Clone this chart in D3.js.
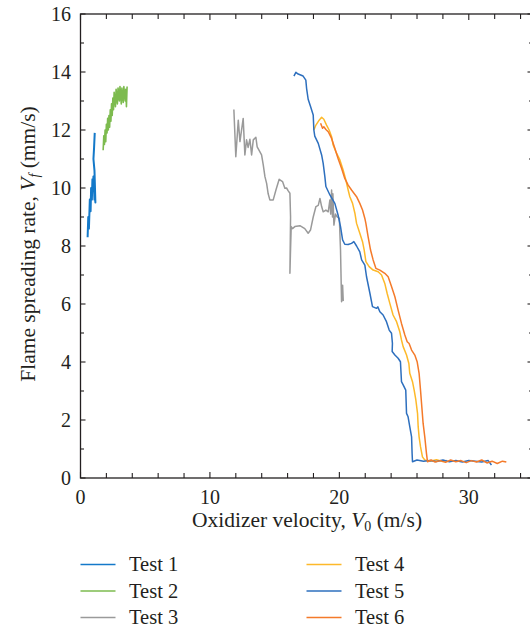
<!DOCTYPE html>
<html>
<head>
<meta charset="utf-8">
<script src="https://cdn.jsdelivr.net/npm/d3@7"></script>
<style>
  html, body { margin: 0; padding: 0; background: #fff; }
  svg { display: block; }
  text { font-family: "Liberation Serif", "Times New Roman", serif; fill: #231f20; }
</style>
</head>
<body>
<svg id="chart" width="530" height="631"></svg>
<script>
// ---------- data ----------
const seriesNames = ["Test 1", "Test 2", "Test 3", "Test 4", "Test 5", "Test 6"];
const seriesColors = ["#1479c9", "#7dbb4f", "#9a9a9a", "#fdb92a", "#2d6fbe", "#f47a2a"];

const test1 = [[0.55,8.3],[0.6,9.0],[0.65,8.6],[0.72,9.6],[0.78,9.2],[0.82,10.0],[0.88,9.6],[0.92,10.3],[0.95,9.9],[1.0,10.4],[1.08,9.6],[1.05,10.2],[1.15,9.5],[1.08,10.6],[1.0,11.0],[1.05,11.4],[1.1,11.9]];
const test2 = [[1.75,11.3],[1.8,11.8],[1.85,11.5],[1.9,12.0],[1.95,11.6],[2.0,12.2],[2.05,11.9],[2.1,12.4],[2.15,12.0],[2.2,12.5],[2.25,12.1],[2.3,12.7],[2.35,12.3],[2.4,12.9],[2.45,12.5],[2.5,13.1],[2.55,12.7],[2.6,13.3],[2.7,12.8],[2.75,13.4],[2.85,12.9],[2.9,13.45],[3.0,13.0],[3.05,13.5],[3.15,12.9],[3.2,13.45],[3.3,12.95],[3.35,13.5],[3.45,13.0],[3.5,13.4],[3.55,12.8],[3.6,13.5]];
const test3 = [[11.85,12.71],[12.0,11.08],[12.19,12.34],[12.32,11.6],[12.57,12.4],[12.7,11.14],[12.83,11.66],[12.95,11.4],[13.09,11.68],[13.22,11.14],[13.35,11.66],[13.55,11.75],[13.65,11.42],[13.8,11.3],[13.99,11.14],[14.12,10.8],[14.25,10.39],[14.38,10.16],[14.5,9.8],[14.63,9.59],[14.89,9.59],[15.1,9.93],[15.35,10.3],[15.61,10.22],[15.79,9.99],[15.92,10.0],[16.05,9.9],[16.18,9.82],[16.23,9.0],[16.18,7.06],[16.23,7.9],[16.28,8.67],[16.38,8.6],[16.56,8.67],[16.95,8.7],[17.33,8.6],[17.59,8.44],[17.77,8.55],[17.98,9.0],[18.19,9.36],[18.37,9.4],[18.5,9.64],[18.63,9.36],[18.75,9.18],[18.96,9.24],[19.14,9.18],[19.27,9.59],[19.33,9.1],[19.4,9.93],[19.47,9.0],[19.5,9.8],[19.58,8.72],[19.7,9.1],[19.84,9.0],[20.0,8.95],[20.09,7.86],[20.17,6.08],[20.25,6.65],[20.3,6.1]];
const test4 = [[18.03,12.0],[18.19,12.17],[18.44,12.34],[18.63,12.44],[18.8,12.37],[19.01,12.17],[19.21,12.0],[19.4,11.77],[19.52,11.48],[19.78,11.2],[20.04,10.97],[20.29,10.62],[20.5,10.28],[20.68,9.93],[20.81,9.7],[21.02,9.47],[21.2,9.13],[21.33,8.78],[21.58,8.44],[21.79,8.15],[21.92,7.86],[22.05,7.46],[22.3,7.29],[22.61,7.17],[23.0,7.11],[23.26,7.0],[23.51,6.71],[23.69,6.37],[23.9,6.02],[24.15,5.62],[24.42,5.39],[24.67,5.04],[24.8,4.76],[24.93,4.53],[25.19,4.24],[25.37,3.95],[25.44,3.61],[25.65,3.32],[25.78,3.03],[25.91,2.69],[26.04,2.23],[26.09,1.77],[26.16,1.42],[26.27,1.08],[26.42,0.73],[26.6,0.62],[27.0,0.58],[27.5,0.63],[28.0,0.57],[28.3,0.6]];
const test5 = [[16.49,13.86],[16.64,13.99],[16.82,13.93],[17.2,13.86],[17.41,13.72],[17.47,13.43],[17.59,13.06],[17.78,12.8],[17.98,12.52],[18.03,12.0],[18.1,11.79],[18.37,11.54],[18.63,11.14],[18.75,10.85],[18.88,10.39],[18.96,10.05],[19.27,9.76],[19.65,9.47],[19.9,9.07],[20.09,8.67],[20.25,8.21],[20.42,8.06],[20.68,8.05],[20.94,8.09],[21.12,8.15],[21.33,8.0],[21.58,7.8],[21.72,7.52],[21.97,7.34],[22.1,6.94],[22.36,6.37],[22.56,5.91],[22.87,5.85],[22.97,5.9],[23.13,5.73],[23.38,5.62],[23.64,5.39],[23.85,5.1],[24.03,4.99],[24.1,4.64],[24.08,4.36],[24.29,4.24],[24.54,4.13],[24.72,4.01],[24.8,3.32],[24.93,3.21],[25.13,3.03],[25.19,2.23],[25.31,2.11],[25.44,1.77],[25.58,1.42],[25.62,0.85],[25.65,0.56],[26.0,0.62],[26.5,0.58],[27.0,0.6],[27.5,0.57],[28.0,0.62],[28.5,0.56],[29.0,0.6],[29.5,0.55],[30.0,0.6],[30.5,0.58],[31.0,0.55],[31.5,0.6],[31.75,0.45]];
const test6 = [[18.55,12.23],[18.7,12.06],[18.8,12.11],[18.96,12.02],[19.14,11.94],[19.4,11.71],[19.65,11.37],[19.9,11.02],[20.17,10.68],[20.42,10.33],[20.68,10.1],[20.94,9.93],[21.33,9.7],[21.58,9.47],[21.79,9.24],[21.97,8.95],[22.05,8.78],[22.22,8.32],[22.41,7.86],[22.61,7.52],[22.82,7.23],[23.13,7.17],[23.51,7.06],[23.77,6.94],[24.03,6.6],[24.29,6.25],[24.54,5.79],[24.8,5.33],[25.06,4.93],[25.24,4.7],[25.39,4.64],[25.58,4.41],[25.83,4.24],[26.01,4.01],[26.16,3.61],[26.27,3.03],[26.37,2.46],[26.47,1.89],[26.6,1.42],[26.73,0.85],[26.81,0.56],[27.1,0.62],[27.4,0.55],[27.8,0.6],[28.2,0.54],[28.6,0.62],[29.0,0.56],[29.4,0.6],[29.8,0.53],[30.2,0.6],[30.6,0.55],[31.0,0.62],[31.4,0.52],[31.8,0.58],[32.2,0.5],[32.6,0.58],[32.9,0.55]];
const seriesData = [test1, test2, test3, test4, test5, test6];
const seriesWidths = [2, 1.6, 1.5, 1.5, 1.5, 1.5];

const xTicks = [0, 10, 20, 30];
const yTicks = [0, 2, 4, 6, 8, 10, 12, 14, 16];

// ---------- layout ----------
const svg = d3.select("#chart");
const x = d3.scaleLinear().domain([0, 35]).range([80.5, 533.5]);
const y = d3.scaleLinear().domain([0, 16]).range([478, 14]);
const axisColor = "#231f20";
const tickFont = 20;
const titleFont = 21.5;
const legendFont = 20.5;

// frame
const g = svg.append("g");
g.append("rect").attr("x", x(0)).attr("y", y(16))
  .attr("width", x(35) - x(0)).attr("height", y(0) - y(16))
  .attr("fill", "none").attr("stroke", axisColor).attr("stroke-width", 1.3);

// x ticks (every 2), inward, bottom & top
d3.range(0, 35.01, 2).forEach(v => {
  const len = (v % 10 === 0) ? 6 : 5;
  g.append("line").attr("x1", x(v)).attr("x2", x(v)).attr("y1", y(0)).attr("y2", y(0) - len)
    .attr("stroke", axisColor).attr("stroke-width", 1.1);
  g.append("line").attr("x1", x(v)).attr("x2", x(v)).attr("y1", y(16)).attr("y2", y(16) + len)
    .attr("stroke", axisColor).attr("stroke-width", 1.1);
});
// y ticks (every 1), inward, left & right
d3.range(0, 16.01, 1).forEach(v => {
  const len = (v % 2 === 0) ? 5 : 3.5;
  g.append("line").attr("x1", x(0)).attr("x2", x(0) + len).attr("y1", y(v)).attr("y2", y(v))
    .attr("stroke", axisColor).attr("stroke-width", 1.1);
  g.append("line").attr("x1", x(35)).attr("x2", x(35) - len - 1).attr("y1", y(v)).attr("y2", y(v))
    .attr("stroke", axisColor).attr("stroke-width", 1.1);
});

// tick labels
g.selectAll(".xl").data(xTicks).enter().append("text")
  .attr("x", d => x(d)).attr("y", 503.5).attr("text-anchor", "middle")
  .attr("font-size", tickFont).text(d => d);
g.selectAll(".yl").data(yTicks).enter().append("text")
  .attr("x", 71).attr("y", d => y(d)).attr("dy", "0.34em").attr("text-anchor", "end")
  .attr("font-size", tickFont).text(d => d);

// axis titles
const xt = svg.append("text").attr("x", (x(0) + x(35)) / 2).attr("y", 527)
  .attr("text-anchor", "middle").attr("font-size", titleFont);
xt.append("tspan").text("Oxidizer velocity, ");
xt.append("tspan").attr("font-style", "italic").text("V");
xt.append("tspan").attr("font-size", 14).attr("dy", 4).text("0");
xt.append("tspan").attr("dy", -4).text(" (m/s)");

const yt = svg.append("text").attr("transform", "translate(35," + ((y(0) + y(16)) / 2 - 2) + ") rotate(-90)")
  .attr("text-anchor", "middle").attr("font-size", titleFont);
yt.append("tspan").text("Flame spreading rate, ");
yt.append("tspan").attr("font-style", "italic").text("V");
yt.append("tspan").attr("font-style", "italic").attr("font-size", 14).attr("dy", 4).text("f");
yt.append("tspan").attr("dy", -4).text(" (mm/s)");

// lines
const line = d3.line().x(d => x(d[0])).y(d => y(d[1]));
const plot = svg.append("g");
seriesData.forEach((data, i) => {
  plot.append("path").datum(data).attr("d", line)
    .attr("fill", "none").attr("stroke", seriesColors[i])
    .attr("stroke-width", seriesWidths[i]).attr("stroke-linejoin", "round");
});

// legend
const legend = svg.append("g");
seriesNames.forEach((name, i) => {
  const col = Math.floor(i / 3), row = i % 3;
  const lx = col === 0 ? 80.5 : 306.5;
  const ly = 564.5 + row * 26.5;
  legend.append("line").attr("x1", lx).attr("x2", lx + 35).attr("y1", ly).attr("y2", ly)
    .attr("stroke", seriesColors[i]).attr("stroke-width", 1.6);
  legend.append("text").attr("x", lx + 48.5).attr("y", ly + 6.5)
    .attr("font-size", legendFont).text(name);
});
</script>
</body>
</html>
